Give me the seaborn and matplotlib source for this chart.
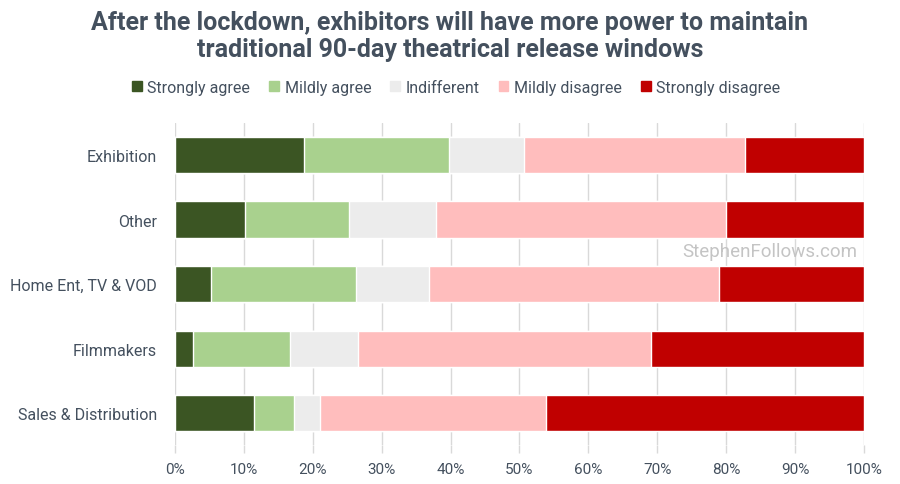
import pandas as pd
import seaborn as sns
import matplotlib.pyplot as plt
from matplotlib.patches import Patch

groups = ["Exhibition", "Other", "Home Ent, TV & VOD", "Filmmakers", "Sales & Distribution"]
answers = ["Strongly agree", "Mildly agree", "Indifferent", "Mildly disagree", "Strongly disagree"]
strongly_agree = [18.8, 10.1, 5.2, 2.6, 11.5]
mildly_agree = [21.0, 15.1, 21.1, 14.1, 5.8]
indifferent = [10.8, 12.7, 10.6, 9.8, 3.8]
mildly_disagree = [32.2, 42.0, 42.1, 42.6, 32.7]
strongly_disagree = [17.2, 20.1, 21.0, 30.9, 46.2]
colors = ["#3b5523", "#a9d18e", "#ececec", "#ffbdbd", "#c00000"]
text_col = "#44505e"

df = pd.DataFrame({
    "group": groups,
    "Strongly agree": strongly_agree,
    "Mildly agree": mildly_agree,
    "Indifferent": indifferent,
    "Mildly disagree": mildly_disagree,
    "Strongly disagree": strongly_disagree,
})
cum = df[answers].cumsum(axis=1) / 100
cum["group"] = df["group"]

sns.set_style("white")
plt.rcParams["font.family"] = ["Roboto", "DejaVu Sans"]

fig = plt.figure(figsize=(9, 4.85), dpi=100)
ax = fig.add_axes([0.1944, 0.0794, 0.7656, 0.6656])

# stacked look: draw cumulative totals from the widest down
for ans, col in zip(answers[::-1], colors[::-1]):
    sns.barplot(data=cum, x=ans, y="group", color=col, width=0.56,
                saturation=1, ax=ax, zorder=2)

ax.set_xlim(0, 1)
ax.set_ylim(4.5, -0.5)
ax.set_xticks([i / 10 for i in range(11)])
ax.set_xticklabels([f"{i*10}%" for i in range(11)])
ax.set_xlabel("")
ax.set_ylabel("")
ax.grid(axis="x", color="#d9d9d9", linewidth=1, zorder=0)
ax.set_axisbelow(True)
for s in ax.spines.values():
    s.set_visible(False)
ax.tick_params(axis="x", colors="#d9d9d9", labelcolor=text_col, labelsize=11,
               length=6, width=1, pad=6, bottom=True)
ax.tick_params(axis="y", length=0, labelcolor=text_col, labelsize=11.5, pad=13)

fig.text(0.5, 0.978, "After the lockdown, exhibitors will have more power to maintain\n"
         "traditional 90-day theatrical release windows",
         ha="center", va="top", fontsize=18, fontweight="bold", color=text_col,
         linespacing=1.2)

handles = [Patch(facecolor=c, edgecolor=c) for c in colors]
fig.legend(handles, answers, loc="center", bbox_to_anchor=(0.507, 0.818), ncol=5,
           frameon=False, fontsize=11.5, handlelength=0.6, handleheight=0.6,
           handletextpad=0.35, columnspacing=1.2, labelcolor=text_col)

fig.text(0.953, 0.48, "StephenFollows.com", ha="right", va="center",
         fontsize=13.5, color="#c4c4c4")

fig.savefig("out.png", dpi=100)
